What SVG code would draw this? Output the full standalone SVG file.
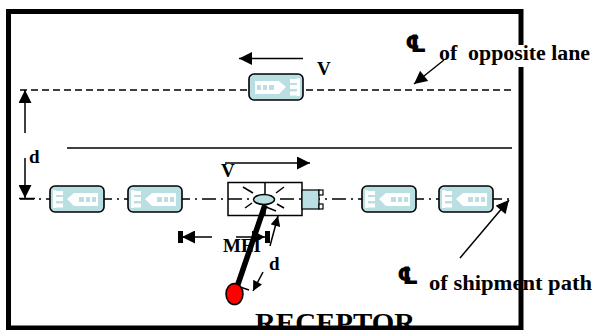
<svg xmlns="http://www.w3.org/2000/svg" xmlns:xlink="http://www.w3.org/1999/xlink" width="597" height="330" viewBox="0 0 597 330">
  <style>
    .lbl { font-family: "Liberation Serif", "Times New Roman", serif; font-weight: bold; fill: #000; }
    .cl { font-family: "DejaVu Sans", sans-serif; font-weight: bold; fill: #000; }
    .ln { stroke: #000; fill: none; stroke-width: 1.5; }
    .body { fill: #b9dfe3; stroke: #000; stroke-width: 1.6; }
    .w { fill: #fff; }
    .b { fill: #b9dfe3; }
  </style>
  <defs>
    <marker id="ah" viewBox="0 0 10 10" refX="10" refY="5" markerWidth="14" markerHeight="13" markerUnits="userSpaceOnUse" orient="auto">
      <path d="M0,0 L10,5 L0,10 Z" fill="#000"/>
    </marker>
    <marker id="ahs" viewBox="0 0 10 10" refX="10" refY="5" markerWidth="12" markerHeight="10" markerUnits="userSpaceOnUse" orient="auto">
      <path d="M0,0 L10,5 L0,10 Z" fill="#000"/>
    </marker>
    <!-- vehicle seen from above, 54 x 26, front to the left -->
    <g id="vehicle">
      <rect class="body" x="0" y="0" width="54" height="26" rx="5"/>
      <rect class="w" x="3" y="4" width="3" height="18"/>
      <rect class="w" x="6" y="5" width="7" height="4"/>
      <rect class="w" x="6" y="11" width="7" height="4"/>
      <rect class="w" x="6" y="17.5" width="7" height="4"/>
      <polygon class="w" points="17,13 24,7 48,7 48,20 24,20"/>
      <rect class="b" x="29" y="11" width="5" height="5"/>
      <rect class="b" x="36" y="11" width="4" height="5"/>
      <rect class="b" x="42" y="11" width="4" height="5"/>
    </g>
  </defs>

  <rect width="597" height="330" fill="#fff"/>

  <!-- lane lines and dimension arrows -->
  <g id="connectors">
    <line class="ln" x1="20" y1="90" x2="514" y2="90" stroke-dasharray="7 4"/>
    <line class="ln" x1="67" y1="148" x2="512" y2="148" stroke-width="2"/>
    <line class="ln" x1="20" y1="199" x2="512" y2="199" stroke-dasharray="14 5 2 5"/>
    <!-- velocity arrows -->
    <line class="ln" x1="303" y1="58.5" x2="239" y2="58.5" stroke-width="2" marker-end="url(#ah)"/>
    <line class="ln" x1="225" y1="163" x2="310" y2="163" stroke-width="2" marker-end="url(#ah)"/>
    <!-- separation d between lanes -->
    <line class="ln" x1="25" y1="133" x2="25" y2="90" stroke-width="2" marker-end="url(#ah)"/>
    <line class="ln" x1="25" y1="158" x2="25" y2="198" stroke-width="2" marker-end="url(#ah)"/>
    <line class="ln" x1="19" y1="198.5" x2="35" y2="198.5" stroke-width="2"/>
    <!-- callouts -->
    <line class="ln" x1="444" y1="60" x2="414" y2="84" stroke-width="2" marker-end="url(#ah)"/>
    <line class="ln" x1="460" y1="258" x2="509" y2="200" stroke-width="2" marker-end="url(#ah)"/>
    <!-- MEI extent -->
    <line class="ln" x1="212" y1="237" x2="182" y2="237" stroke-width="2" marker-end="url(#ah)"/>
    <rect x="178" y="231" width="5" height="12" fill="#000"/>
    <line class="ln" x1="236" y1="237" x2="265" y2="237" stroke-width="2" marker-end="url(#ah)"/>
    <rect x="265" y="231" width="5" height="12" fill="#000"/>
    <!-- distance d to receptor -->
    <line class="ln" x1="270" y1="246" x2="278" y2="216" stroke-width="2" marker-end="url(#ahs)"/>
    <line class="ln" x1="263" y1="272" x2="253" y2="291" stroke-width="2" marker-end="url(#ahs)"/>
    <line class="ln" x1="266" y1="207" x2="276" y2="211" stroke-width="3"/>
    <line class="ln" x1="240" y1="287" x2="249" y2="290" stroke-width="3"/>
  </g>

  <!-- oncoming vehicle on the opposite lane -->
  <g id="oncoming-vehicle">
    <use xlink:href="#vehicle" href="#vehicle" transform="translate(303,74) scale(-1,1)"/>
  </g>

  <!-- vehicles on the shipment path -->
  <g id="vehicle-1"><use xlink:href="#vehicle" href="#vehicle" x="50" y="186"/></g>
  <g id="vehicle-2"><use xlink:href="#vehicle" href="#vehicle" x="128" y="186"/></g>
  <g id="vehicle-3"><use xlink:href="#vehicle" href="#vehicle" x="362" y="186"/></g>
  <g id="vehicle-4"><use xlink:href="#vehicle" href="#vehicle" x="439" y="186"/></g>

  <!-- shipment truck with release point -->
  <g id="shipment-truck">
    <rect x="228" y="182.5" width="74" height="33" fill="none" stroke="#000" stroke-width="1.5"/>
    <line class="ln" x1="265" y1="182.5" x2="265" y2="215.5"/>
    <rect x="302" y="190" width="17" height="19" fill="#b9dfe3" stroke="#000" stroke-width="1.2"/>
    <rect x="319" y="190" width="4" height="5" fill="#fff" stroke="#000" stroke-width="1.2"/>
    <rect x="319" y="204" width="4" height="5" fill="#fff" stroke="#000" stroke-width="1.2"/>
    <g class="ln">
      <line x1="243" y1="187" x2="253" y2="193"/>
      <line x1="245" y1="208" x2="252" y2="203"/>
      <line x1="276" y1="193" x2="284" y2="187"/>
      <line x1="277" y1="204" x2="284" y2="208"/>
    </g>
    <ellipse cx="264" cy="199.5" rx="10.5" ry="5" fill="#b9dfe3" stroke="#000" stroke-width="1.5"/>
  </g>

  <g id="mei-label">
    <text class="lbl" x="223" y="252" font-size="19">MEI</text>
  </g>

  <!-- path from the release point to the receptor -->
  <g id="receptor">
    <line x1="265" y1="205" x2="237" y2="287" stroke="#000" stroke-width="5.5"/>
    <ellipse cx="234.5" cy="294" rx="8.5" ry="10.5" fill="#f00" stroke="#000" stroke-width="1.5"/>
    <text class="lbl" x="255" y="332" font-size="27" textLength="160" lengthAdjust="spacingAndGlyphs">RECEPTOR</text>
  </g>

  <g id="labels">
    <text class="lbl" x="317" y="75" font-size="19">V</text>
    <text class="lbl" x="221" y="177" font-size="19">V</text>
    <text class="lbl" x="29" y="163" font-size="19">d</text>
    <text class="lbl" x="269" y="270" font-size="19">d</text>
    <text class="cl" x="397" y="284" font-size="24">℄</text>
    <text class="lbl" x="429" y="290" font-size="20" textLength="163" lengthAdjust="spacingAndGlyphs">of shipment path</text>
  </g>

  <!-- frame -->
  <rect x="8.5" y="11.5" width="512.5" height="316.5" fill="none" stroke="#000" stroke-width="5"/>

  <g id="opposite-lane-label">
    <rect x="516" y="45" width="10" height="22" fill="#fff"/>
    <text class="cl" x="405" y="52" font-size="24">℄</text>
    <text class="lbl" x="439" y="60" font-size="20" textLength="151" lengthAdjust="spacingAndGlyphs" xml:space="preserve">of  opposite lane</text>
  </g>
</svg>
